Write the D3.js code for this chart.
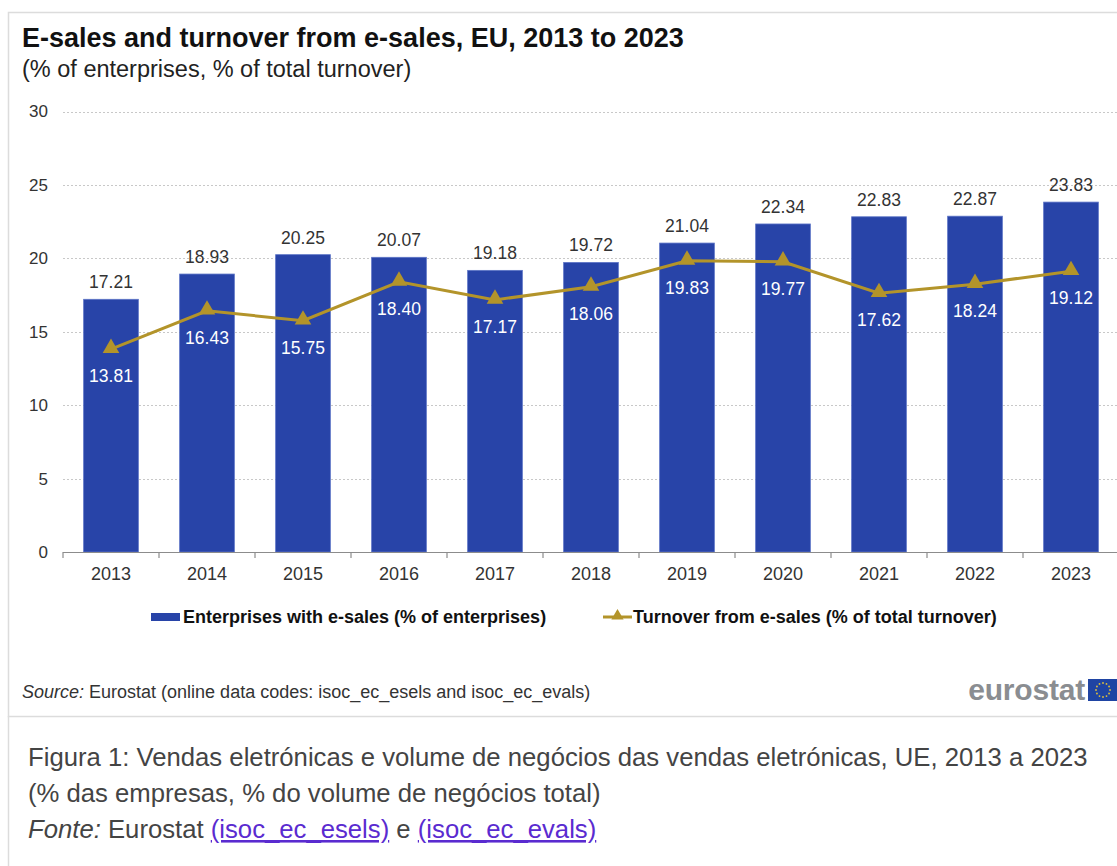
<!DOCTYPE html>
<html>
<head>
<meta charset="utf-8">
<script src="https://cdn.jsdelivr.net/npm/d3@7"></script>
<style>
  html, body { margin: 0; padding: 0; background: #fff; }
  svg { display: block; font-family: Arial, "Liberation Sans", sans-serif; }
</style>
</head>
<body>
<svg id="chart" width="1117" height="866"></svg>
<script>
// Data: EU e-sales indicators
const years = ["2013","2014","2015","2016","2017","2018","2019","2020","2021","2022","2023"];
const enterprisesShare = [17.21, 18.93, 20.25, 20.07, 19.18, 19.72, 21.04, 22.34, 22.83, 22.87, 23.83];
const turnoverShare = [13.81, 16.43, 15.75, 18.40, 17.17, 18.06, 19.83, 19.77, 17.62, 18.24, 19.12];
const yTicks = [0, 5, 10, 15, 20, 25, 30];
const seriesNames = ["Enterprises with e-sales (% of enterprises)", "Turnover from e-sales (% of total turnover)"];

const BAR = "#2844a8";
const LINE = "#b3942a";
const TEXT = "#333333";
const FONT = "Arial, 'Liberation Sans', sans-serif";

const svg = d3.select("#chart");

// frame around the chart and the caption area
svg.append("rect").attr("x", 8.5).attr("y", 12.5).attr("width", 1130).attr("height", 704)
  .attr("fill", "none").attr("stroke", "#dcdcdc").attr("stroke-width", 1.5);
svg.append("line").attr("x1", 8.5).attr("x2", 8.5).attr("y1", 716).attr("y2", 866)
  .attr("stroke", "#dcdcdc").attr("stroke-width", 1.5);

// title block
svg.append("text").attr("x", 22).attr("y", 47)
  .attr("font-size", 27).attr("font-weight", "bold").attr("fill", "#111")
  .text("E-sales and turnover from e-sales, EU, 2013 to 2023");
svg.append("text").attr("x", 22).attr("y", 77)
  .attr("font-size", 23.5).attr("fill", "#222")
  .text("(% of enterprises, % of total turnover)");

// scales
const x = d3.scaleBand().domain(years).range([63, 1119]).paddingInner(0.43).paddingOuter(0.215);
const y = d3.scaleLinear().domain([0, 30]).range([552, 111.5]);

// gridlines
svg.append("g").selectAll("line").data(yTicks.filter(d => d > 0)).join("line")
  .attr("x1", 63).attr("x2", 1117)
  .attr("y1", d => Math.round(y(d)) + 0.5).attr("y2", d => Math.round(y(d)) + 0.5)
  .attr("stroke", "#c8c8c8").attr("stroke-dasharray", "2,2");

// y axis labels
const yAxis = d3.axisLeft(y).tickValues(yTicks).tickSize(0).tickPadding(0);
svg.append("g").attr("transform", "translate(48,0)").call(yAxis)
  .call(g => g.select(".domain").remove())
  .call(g => g.selectAll("text").attr("font-size", 17).attr("fill", TEXT).attr("font-family", FONT));

// bars
svg.append("g").selectAll("rect").data(years).join("rect")
  .attr("x", d => x(d)).attr("width", x.bandwidth())
  .attr("y", (d, i) => y(enterprisesShare[i]))
  .attr("height", (d, i) => y(0) - y(enterprisesShare[i]))
  .attr("fill", BAR).attr("stroke", "#5c74c6").attr("stroke-width", 0.8);

// x axis with ticks between categories
const xAxis = d3.axisBottom(x).tickSize(0).tickPadding(0);
const xg = svg.append("g").attr("transform", "translate(0,552)").call(xAxis);
xg.select(".domain").remove();
xg.selectAll("text").attr("font-size", 18).attr("fill", TEXT).attr("dy", "1.1em")
  .attr("font-family", FONT).attr("y", 8);
svg.append("line").attr("x1", 63).attr("x2", 1119).attr("y1", 552.5).attr("y2", 552.5)
  .attr("stroke", "#8c8c8c").attr("stroke-width", 1.2);
const boundaries = years.map(d => x(d) - x.step() * x.paddingInner() / 2);
svg.append("g").selectAll("line").data(boundaries).join("line")
  .attr("x1", d => d).attr("x2", d => d).attr("y1", 552).attr("y2", 558)
  .attr("stroke", "#8c8c8c").attr("stroke-width", 1.2);

// bar value labels
svg.append("g").selectAll("text").data(years).join("text")
  .attr("x", d => x(d) + x.bandwidth() / 2)
  .attr("y", (d, i) => y(enterprisesShare[i]) - 11)
  .attr("text-anchor", "middle").attr("font-size", 17.5).attr("fill", TEXT)
  .text((d, i) => enterprisesShare[i].toFixed(2));

// turnover line
const cx = d => x(d) + x.bandwidth() / 2;
const line = d3.line().x(d => cx(d)).y((d, i) => y(turnoverShare[i]));
svg.append("path").datum(years).attr("d", line)
  .attr("fill", "none").attr("stroke", LINE).attr("stroke-width", 3);

const tri = d3.symbol().type(d3.symbolTriangle).size(120);
svg.append("g").selectAll("path").data(years).join("path")
  .attr("d", tri)
  .attr("transform", (d, i) => `translate(${cx(d)},${y(turnoverShare[i]) - 1})`)
  .attr("fill", LINE);

// line value labels inside bars
svg.append("g").selectAll("text").data(years).join("text")
  .attr("x", d => cx(d))
  .attr("y", (d, i) => y(turnoverShare[i]) + 33)
  .attr("text-anchor", "middle").attr("font-size", 17.5).attr("fill", "#ffffff")
  .text((d, i) => turnoverShare[i].toFixed(2));

// legend
const lg = svg.append("g").attr("font-size", 18).attr("font-weight", "bold").attr("fill", "#111");
lg.append("rect").attr("x", 151).attr("y", 613).attr("width", 29).attr("height", 8).attr("fill", BAR);
lg.append("text").attr("x", 183).attr("y", 623).text(seriesNames[0]);
lg.append("line").attr("x1", 603).attr("x2", 632).attr("y1", 617).attr("y2", 617)
  .attr("stroke", LINE).attr("stroke-width", 3);
lg.append("path").attr("d", d3.symbol().type(d3.symbolTriangle).size(65))
  .attr("transform", "translate(617.5,616)").attr("fill", LINE);
lg.append("text").attr("x", 633).attr("y", 623).text(seriesNames[1]);

// source note
const src = svg.append("text").attr("x", 22).attr("y", 698).attr("font-size", 18).attr("fill", TEXT);
src.append("tspan").attr("font-style", "italic").text("Source:");
src.append("tspan").text(" Eurostat (online data codes: isoc_ec_esels and isoc_ec_evals)");

// eurostat logo
svg.append("text").attr("x", 1085).attr("y", 700).attr("text-anchor", "end")
  .attr("font-size", 30).attr("font-weight", "bold").attr("fill", "#8a8d91")
  .attr("letter-spacing", "-0.2").text("eurostat");
svg.append("rect").attr("x", 1088).attr("y", 679).attr("width", 32).attr("height", 22).attr("fill", "#1f44a3");
const stars = d3.range(12).map(k => k * Math.PI * 2 / 12);
svg.append("g").selectAll("circle").data(stars).join("circle")
  .attr("cx", a => 1103 + 7 * Math.cos(a)).attr("cy", a => 690 + 7 * Math.sin(a))
  .attr("r", 0.9).attr("fill", "#e3c23a");

// caption below the chart
const cap = svg.append("g").attr("font-size", 25.7).attr("fill", "#444");
cap.append("text").attr("x", 28).attr("y", 766)
  .text("Figura 1: Vendas eletrónicas e volume de negócios das vendas eletrónicas, UE, 2013 a 2023");
cap.append("text").attr("x", 28).attr("y", 802)
  .text("(% das empresas, % do volume de negócios total)");
const f = cap.append("text").attr("x", 28).attr("y", 838);
f.append("tspan").attr("font-style", "italic").text("Fonte:");
f.append("tspan").text(" Eurostat ");
f.append("tspan").attr("fill", "#5a2bd0").attr("text-decoration", "underline").text("(isoc_ec_esels)");
f.append("tspan").text(" e ");
f.append("tspan").attr("fill", "#5a2bd0").attr("text-decoration", "underline").text("(isoc_ec_evals)");
</script>
</body>
</html>
